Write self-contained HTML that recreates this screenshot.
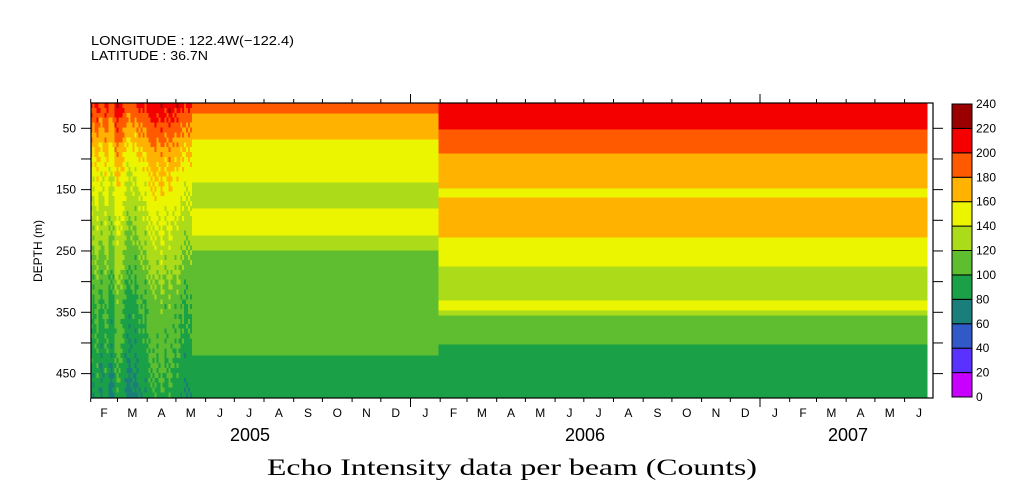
<!DOCTYPE html>
<html><head><meta charset="utf-8"><style>
html,body{margin:0;padding:0;background:#fff;}
svg{display:block;font-family:"Liberation Sans",sans-serif;}
</style></head><body>
<svg id="chart" width="1009" height="504" viewBox="0 0 1009 504">
<defs><clipPath id="pc"><rect x="91" y="103" width="842" height="295"/></clipPath></defs>
<text x="91" y="45" font-size="13" textLength="203" lengthAdjust="spacingAndGlyphs">LONGITUDE : 122.4W(−122.4)</text>
<text x="91" y="60" font-size="13" textLength="117" lengthAdjust="spacingAndGlyphs">LATITUDE : 36.7N</text>
<g id="plot" shape-rendering="crispEdges" clip-path="url(#pc)"></g>
<g id="axes"></g>
<g id="cbar"></g>
<text x="42" y="251" font-size="12" text-anchor="middle" transform="rotate(-90 42 251)">DEPTH (m)</text>
<text x="512" y="475" font-size="23" text-anchor="middle" textLength="490" lengthAdjust="spacingAndGlyphs" font-family="Liberation Serif, serif">Echo Intensity data per beam (Counts)</text>
</svg>
<script>
// ---- data ----
const colorLevels = [0,20,40,60,80,100,120,140,160,180,200,220,240];
const levelColors = ["#C800FF","#5A32FF","#3259C8","#1A7E7A","#1AA046","#5FBE2F","#ACDC19","#EBF500","#FFB300","#FF5A00","#F50000","#9B0000"];
const yTicks = [50,100,150,200,250,300,350,400,450];
const yTickLabels = ["50","","150","","250","","350","","450"];
const monthLetters = ["J","F","M","A","M","J","J","A","S","O","N","D"];
const yearLabels = ["2005","2006","2007"];
// noisy period: mean profile anchors (depth m, counts)
const profileDepths = [10,25,50,80,120,170,230,300,340,400,450,490];
const profileValues = [204,196,182,166,151,139,125,109,100,94,88,82];
// per-ensemble offsets (counts)
const columnOffsets = [4,-6,2,8,-4,-10,-2,6,3,-8,-12,-6,10,14,12,8,2,-6,-10,-14,-8,-4,-12,-6,2,-2,4,-4,6,10,14,12,16,8,12,18,14,6,10,16,12,8,4,12,6,-2,4,-6,-2,2,0];
// deployment 2 layer tops (m) and values
const seg2Depths = [9,25.5,68,138,180.6,224.7,249,420.6];
const seg2Values = [190,170,150,130,150,130,110,90];
// deployment 3 layer tops and values
const seg3Depths = [9,51.6,90.8,148,162.7,228,275,330.8,347,355.3,402.7];
const seg3Values = [210,190,170,150,170,150,130,150,130,110,90];

// ---- scales ----
const X0=91,X1=933,Y0=103,Y1=398;
const DAY=0.9575;
const T0=Date.UTC(2005,1,1);
function dayOf(y,m,d){return (Date.UTC(y,m,d)-T0)/86400000;}
function xS(day){return 90.7+day*DAY;}
function yS(dep){return 128.3+(dep-50)*0.6133;}
const DEPMIN=(Y0-128.3)/0.6133+50, DEPMAX=(Y1-128.3)/0.6133+50;
function colorOf(v){let i=Math.floor(v/20);i=Math.max(0,Math.min(11,i));return levelColors[i];}
function interp(d){for(let i=1;i<profileDepths.length;i++){if(d<=profileDepths[i]){const a=profileDepths[i-1],b=profileDepths[i];return profileValues[i-1]+(profileValues[i]-profileValues[i-1])*(d-a)/(b-a);}}return profileValues[profileValues.length-1];}
const NS="http://www.w3.org/2000/svg";
function el(tag,attrs,parent){const e=document.createElementNS(NS,tag);for(const k in attrs)e.setAttribute(k,attrs[k]);parent.appendChild(e);return e;}
const plot=document.getElementById('plot'),axes=document.getElementById('axes'),cbar=document.getElementById('cbar');

// ---- noisy segment ----
const nStart=0,nEnd=dayOf(2005,4,18);
const colW=(nEnd-nStart)/columnOffsets.length;
const BIN=8;
for(let c=0;c<columnOffsets.length;c++){
  const xa=xS(nStart+c*colW),xb=xS(nStart+(c+1)*colW);
  for(let d=DEPMIN;d<DEPMAX;d+=BIN){
    const wob=((c*7+Math.round(d/BIN)*3)%5-2)*3;
    const v=interp(d+BIN/2)+columnOffsets[c]+wob;
    const r=el('rect',{x:Math.max(X0,xa),y:yS(d),width:xb-Math.max(X0,xa)+0.5,height:BIN*0.6133+0.5,fill:colorOf(v)},plot);
    
    
  }
}
function drawSeg(d0,d1,tops,vals,name){
  for(let i=0;i<tops.length;i++){
    const ya=Math.max(Y0,yS(tops[i])),yb=i+1<tops.length?yS(tops[i+1]):Y1;
    const r=el('rect',{x:xS(d0),y:ya,width:xS(d1)-xS(d0),height:yb-ya,fill:colorOf(vals[i])},plot);
    
    
  }
}
drawSeg(nEnd,dayOf(2006,0,30),seg2Depths,seg2Values,'deployment2');
drawSeg(dayOf(2006,0,30),dayOf(2007,5,25),seg3Depths,seg3Values,'deployment3');

// ---- axes ----
el('rect',{x:X0,y:Y0,width:X1-X0,height:Y1-Y0,fill:'none',stroke:'#000','stroke-width':1.2},axes);
yTicks.forEach((d,i)=>{
  const y=yS(d);
  el('line',{x1:X0-10,x2:X0,y1:y,y2:y,stroke:'#000'},axes);
  el('line',{x1:X1,x2:X1+10,y1:y,y2:y,stroke:'#000'},axes);
  if(yTickLabels[i]){const t=el('text',{x:76,y:y+4,'font-size':12,'text-anchor':'end'},axes);t.textContent=yTickLabels[i];
    
    }
});
for(let k=1;k<=29;k++){
  const y=2005+Math.floor(k/12),m=k%12;
  const day=dayOf(y,m,1);const x=xS(day);
  const big=(m===0);
  if(x<=X1){
    el('line',{x1:x,x2:x,y1:Y1,y2:Y1+(big?9:4),stroke:'#000'},axes);
    el('line',{x1:x,x2:x,y1:Y0,y2:Y0-(big?9:4),stroke:'#000'},axes);
  }
  const nd=dayOf(y,m+1,1);
  const mid=xS((day+nd)/2);
  if(mid<X1){const t=el('text',{x:mid,y:417,'font-size':12,'text-anchor':'middle'},axes);t.textContent=monthLetters[m];
    
    }
}
const yearX=[250,585,848];
yearLabels.forEach((s,i)=>{const t=el('text',{x:yearX[i],y:441,'font-size':18,'text-anchor':'middle'},axes);t.textContent=s;
  
  });

// ---- colorbar ----
const CB0=104,CB1=397,CBX=952,CBW=20,bh=(CB1-CB0)/levelColors.length;
levelColors.forEach((c,i)=>{const r=el('rect',{x:CBX,y:CB1-(i+1)*bh,width:CBW,height:bh,fill:c,stroke:'#000','stroke-width':1},cbar);
  
  });
colorLevels.forEach((v,i)=>{const t=el('text',{x:976,y:CB1-i*bh+4,'font-size':12},cbar);t.textContent=v;
  
  });
</script>
</body></html>
